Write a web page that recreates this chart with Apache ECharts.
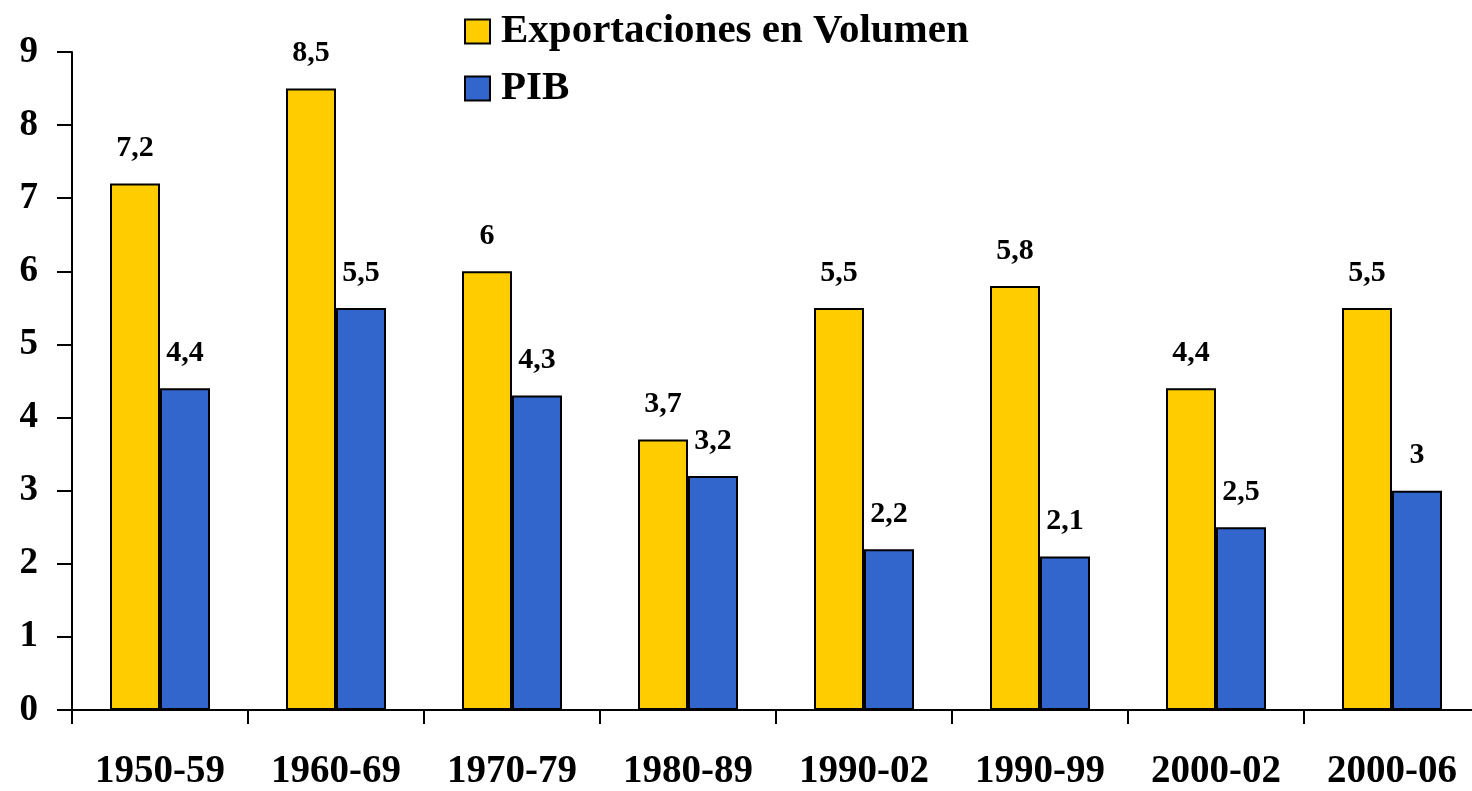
<!DOCTYPE html>
<html>
<head>
<meta charset="utf-8">
<script src="https://cdn.jsdelivr.net/npm/echarts@6/dist/echarts.min.js"></script>
<style>
  html, body { margin: 0; padding: 0; background: #fff; overflow: hidden; }
  #chart { width: 1480px; height: 791px; }
</style>
</head>
<body>
<div id="chart"></div>
<script>
// datos
const periodos = ['1950-59', '1960-69', '1970-79', '1980-89', '1990-02', '1990-99', '2000-02', '2000-06'];
const exportaciones = [7.2, 8.5, 6, 3.7, 5.5, 5.8, 4.4, 5.5];
const pib = [4.4, 5.5, 4.3, 3.2, 2.2, 2.1, 2.5, 3];
const yTicks = [0, 1, 2, 3, 4, 5, 6, 7, 8, 9];

const FONT = '"Liberation Serif", "DejaVu Serif", serif';

const chart = echarts.init(document.getElementById('chart'), null, { renderer: 'canvas' });

const etiqueta = {
  show: true,
  position: 'top',
  distance: 20,
  fontFamily: FONT,
  fontWeight: 'bold',
  fontSize: 30,
  color: '#000',
  formatter: p => String(p.value).replace('.', ',')
};

chart.setOption({
  backgroundColor: '#fff',
  animation: false,
  legend: {
    orient: 'vertical',
    left: 459,
    top: 6,
    itemWidth: 25,
    itemHeight: 24,
    itemGap: 16,
    icon: 'rect',
    textStyle: {
      fontFamily: FONT, fontWeight: 'bold', fontSize: 41, lineHeight: 41, color: '#000',
      padding: [0, 0, 0, 6]
    },
    data: ['Exportaciones en Volumen', 'PIB']
  },
  grid: { left: 72, top: 52, right: 0, bottom: 81 },
  xAxis: {
    type: 'category',
    data: periodos,
    axisLine: { lineStyle: { color: '#000', width: 2 } },
    axisTick: { show: true, length: 14, lineStyle: { color: '#000', width: 2 } },
    axisLabel: { margin: 42, fontFamily: FONT, fontWeight: 'bold', fontSize: 39, color: '#000' }
  },
  yAxis: {
    type: 'value',
    min: yTicks[0],
    max: yTicks[yTicks.length - 1],
    interval: 1,
    splitLine: { show: false },
    axisLine: { show: true, lineStyle: { color: '#000', width: 2 } },
    axisTick: { show: true, length: 15, lineStyle: { color: '#000', width: 2 } },
    axisLabel: { margin: 34, fontFamily: FONT, fontWeight: 'bold', fontSize: 37, color: '#000' }
  },
  series: [
    {
      name: 'Exportaciones en Volumen',
      type: 'bar',
      data: exportaciones,
      barWidth: 50,
      barGap: '0%',
      itemStyle: { color: '#FFCC00', borderColor: '#000', borderWidth: 2 },
      label: etiqueta
    },
    {
      name: 'PIB',
      type: 'bar',
      data: pib,
      barWidth: 50,
      barGap: '0%',
      itemStyle: { color: '#3366CC', borderColor: '#000', borderWidth: 2 },
      label: etiqueta
    }
  ]
});
</script>
</body>
</html>
